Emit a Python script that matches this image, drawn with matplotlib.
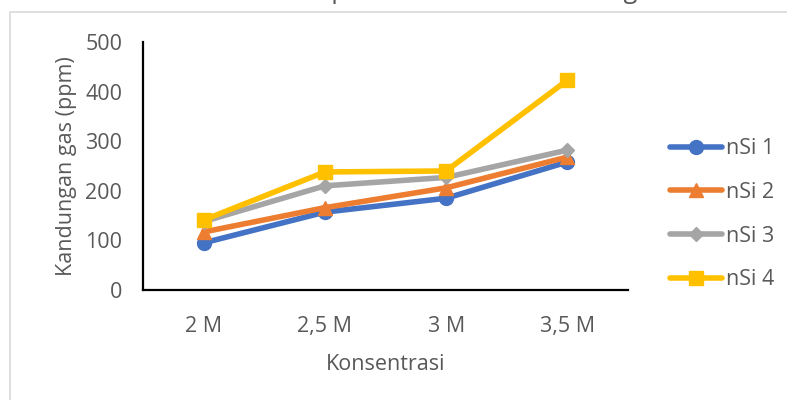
import matplotlib.pyplot as plt
from matplotlib.patches import Rectangle

# Concentrations and measured gas content (ppm) for each sample
konsentrasi = ['2 M', '2,5 M', '3 M', '3,5 M']
nsi_1 = [95, 157, 185, 258]
nsi_2 = [117, 166, 206, 268]
nsi_3 = [138, 210, 227, 282]
nsi_4 = [141, 238, 240, 423]
yticks = [0, 100, 200, 300, 400, 500]

plt.rcParams['font.family'] = ['Open Sans', 'DejaVu Sans']
grey = '#595959'
fs = 15.5

fig = plt.figure(figsize=(7.87, 4.0), dpi=100)

# chart area outline
fig.patches.append(Rectangle((10 / 787, -0.1), 1.0, 0.97 + 0.1, transform=fig.transFigure,
                             fill=False, edgecolor='#d9d9d9', linewidth=1.2))

# title, mostly outside the visible area
fig.text(240 / 787, 1.0 + 2 / 400, 'terhadap Konsentrasi dan Kadar gas',
         ha='left', va='baseline', fontsize=18, color=grey)

ax = fig.add_axes([143 / 787, 110 / 400, 485 / 787, 248 / 400])
x = range(len(konsentrasi))

series = [
    ('nSi 1', nsi_1, '#4472C4', 'o', 10),
    ('nSi 2', nsi_2, '#ED7D31', '^', 10),
    ('nSi 3', nsi_3, '#A5A5A5', 'D', 7),
    ('nSi 4', nsi_4, '#FFC000', 's', 10),
]
for label, vals, color, marker, ms in series:
    ax.plot(x, vals, color=color, linewidth=4, marker=marker, markersize=ms,
            solid_capstyle='round', label=label)

ax.set_xlim(-0.5, 3.5)
ax.set_ylim(0, 500)
ax.set_xticks(list(x))
ax.set_xticklabels(konsentrasi)
ax.set_yticks(yticks)
ax.tick_params(length=0, labelsize=fs, colors=grey)
ax.tick_params(axis='x', pad=19)
ax.tick_params(axis='y', pad=15)

for side in ['top', 'right']:
    ax.spines[side].set_visible(False)
for side in ['left', 'bottom']:
    ax.spines[side].set_color('black')
    ax.spines[side].set_linewidth(1.6)

ax.set_xlabel('Konsentrasi', fontsize=fs, color=grey, labelpad=12)
ax.set_ylabel('Kandungan gas (ppm)', fontsize=fs, color=grey, labelpad=6)

leg = ax.legend(loc='upper left', bbox_to_anchor=(651 / 787, 1 - 119 / 400),
                bbox_transform=fig.transFigure, frameon=False, fontsize=fs,
                handlelength=2.4, labelspacing=1.05, handletextpad=0.2)
for t in leg.get_texts():
    t.set_color(grey)

fig.savefig('out.png', dpi=100)
